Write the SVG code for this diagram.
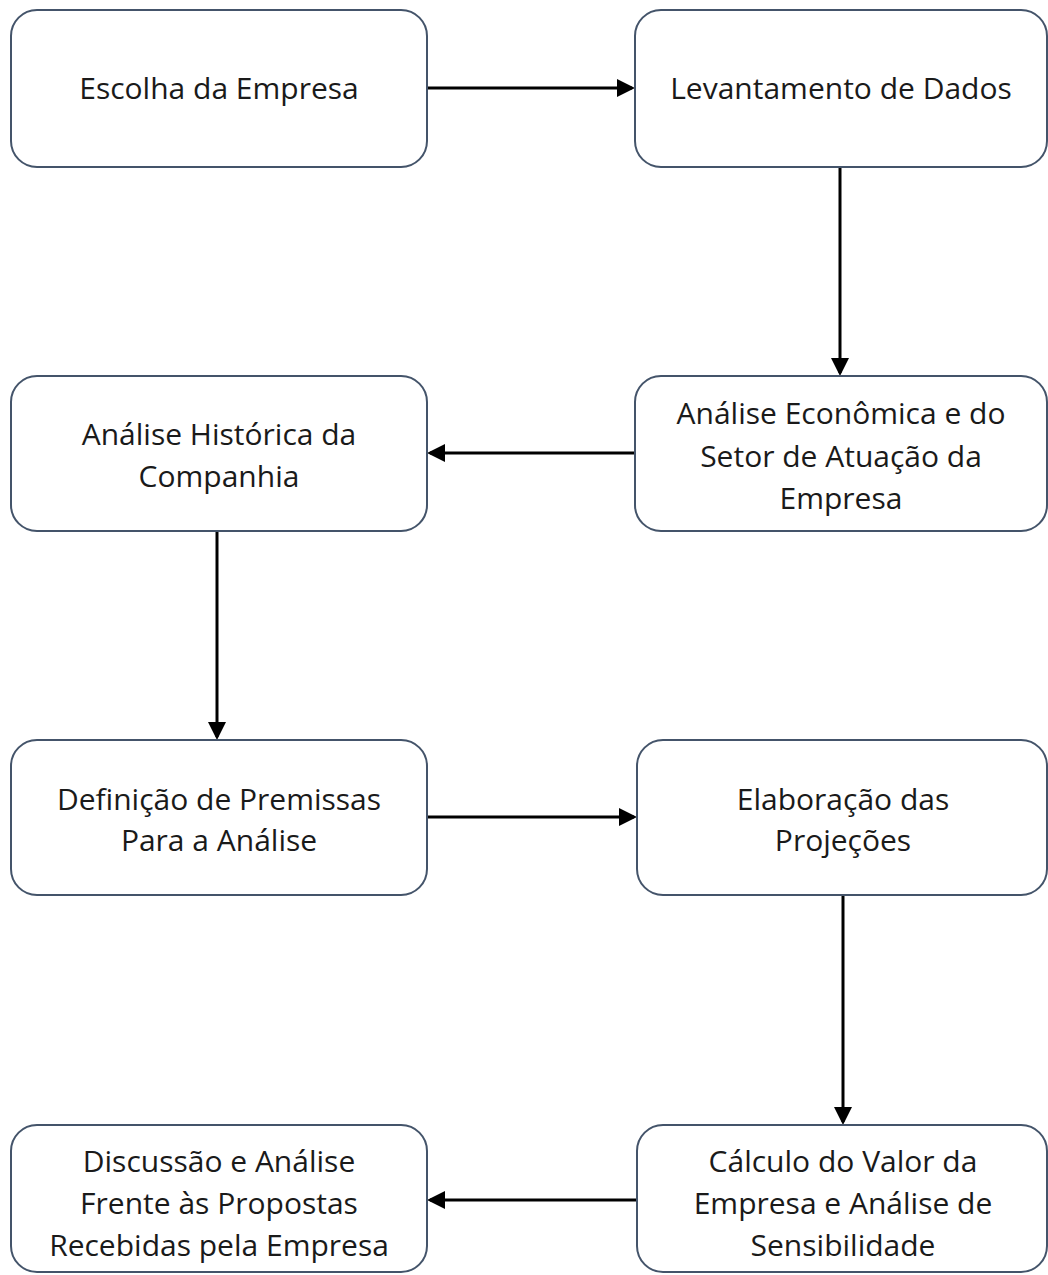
<svg xmlns="http://www.w3.org/2000/svg" width="1048" height="1275" viewBox="0 0 1048 1275">
<defs>
<marker id="ah" markerWidth="6" markerHeight="6" refX="5" refY="3" orient="auto" markerUnits="strokeWidth">
<path d="M0,0 L6,3 L0,6 z" fill="#000"/>
</marker>
<style>
.box{fill:#fff;stroke:#44546a;stroke-width:2}
.t{font-family:"Open Sans","Liberation Sans",sans-serif;font-size:30px;fill:#1a1a1a;text-anchor:middle}
.c{stroke:#000;stroke-width:3;fill:none;marker-end:url(#ah)}
</style>
</defs>
<rect width="1048" height="1275" fill="#fff"/>
<g id="connectors">
<line class="c" x1="427" y1="88" x2="632" y2="88"/>
<line class="c" x1="840" y1="167" x2="840" y2="373"/>
<line class="c" x1="635" y1="453" x2="430" y2="453"/>
<line class="c" x1="217" y1="531" x2="217" y2="737"/>
<line class="c" x1="427" y1="817" x2="634" y2="817"/>
<line class="c" x1="843" y1="895" x2="843" y2="1122"/>
<line class="c" x1="637" y1="1200" x2="430" y2="1200"/>
</g>
<g id="n1"><rect class="box" x="11" y="10" width="416" height="157" rx="26"/><text class="t" x="219" y="99">Escolha da Empresa</text></g>
<g id="n2"><rect class="box" x="635" y="10" width="412" height="157" rx="26"/><text class="t" x="841" y="99">Levantamento de Dados</text></g>
<g id="n3"><rect class="box" x="635" y="376" width="412" height="155" rx="26"/><text class="t" x="841" y="424">Análise Econômica e do</text><text class="t" x="841" y="467">Setor de Atuação da</text><text class="t" x="841" y="509">Empresa</text></g>
<g id="n4"><rect class="box" x="11" y="376" width="416" height="155" rx="26"/><text class="t" x="219" y="445">Análise Histórica da</text><text class="t" x="219" y="487">Companhia</text></g>
<g id="n5"><rect class="box" x="11" y="740" width="416" height="155" rx="26"/><text class="t" x="219" y="810">Definição de Premissas</text><text class="t" x="219" y="851">Para a Análise</text></g>
<g id="n6"><rect class="box" x="637" y="740" width="410" height="155" rx="26"/><text class="t" x="843" y="810">Elaboração das</text><text class="t" x="843" y="851">Projeções</text></g>
<g id="n7"><rect class="box" x="637" y="1125" width="410" height="147" rx="26"/><text class="t" x="843" y="1172">Cálculo do Valor da</text><text class="t" x="843" y="1214">Empresa e Análise de</text><text class="t" x="843" y="1256">Sensibilidade</text></g>
<g id="n8"><rect class="box" x="11" y="1125" width="416" height="147" rx="26"/><text class="t" x="219" y="1172">Discussão e Análise</text><text class="t" x="219" y="1214">Frente às Propostas</text><text class="t" x="219" y="1256">Recebidas pela Empresa</text></g>
</svg>
